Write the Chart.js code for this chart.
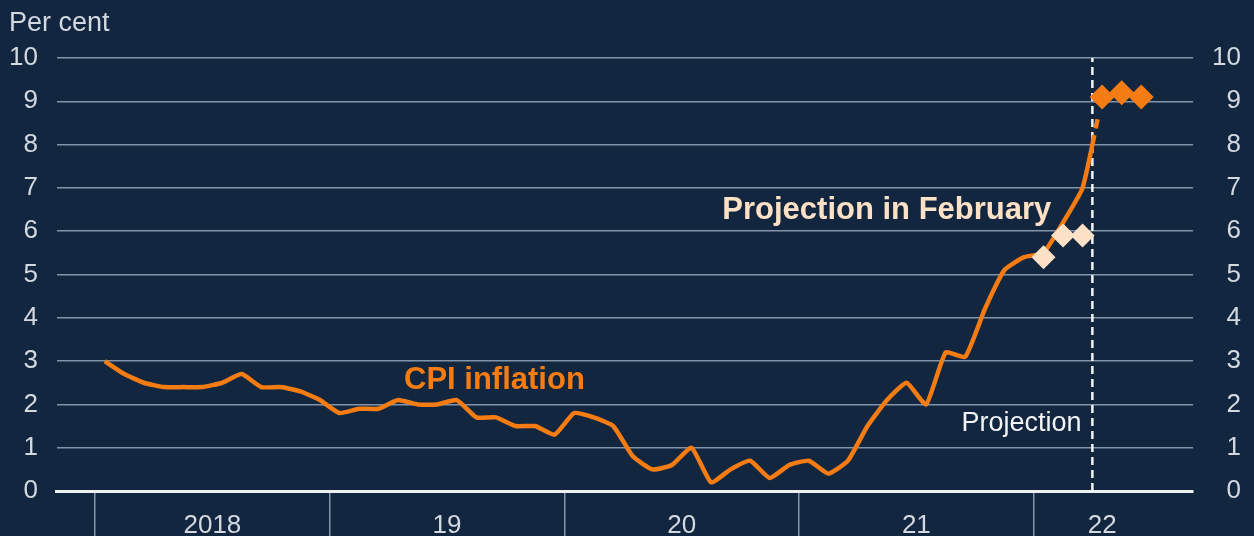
<!DOCTYPE html>
<html>
<head>
<meta charset="utf-8">
<script src="https://cdn.jsdelivr.net/npm/chart.js@4.4.1/dist/chart.umd.min.js"></script>
<style>
  html, body { margin: 0; padding: 0; background: #13263f; overflow: hidden; }
  #wrap { width: 1254px; height: 536px; }
</style>
</head>
<body>
<div id="wrap"><canvas id="chart"></canvas></div>
<script>
// Monthly CPI inflation, Jan 2018 .. Mar 2022 (per cent)
const cpi = [
  3.0, 2.7, 2.5, 2.4, 2.4, 2.4, 2.5, 2.7, 2.4, 2.4, 2.3, 2.1,
  1.8, 1.9, 1.9, 2.1, 2.0, 2.0, 2.1, 1.7, 1.7, 1.5, 1.5, 1.3,
  1.8, 1.7, 1.5, 0.8, 0.5, 0.6, 1.0, 0.2, 0.5, 0.7, 0.3, 0.6,
  0.7, 0.4, 0.7, 1.5, 2.1, 2.5, 2.0, 3.2, 3.1, 4.2, 5.1, 5.4,
  5.5, 6.2, 7.0
];
// February projection, Jan .. Mar 2022
const febProjection = [5.4, 5.9, 5.9];
// current projection, Apr .. Jun 2022
const newProjection = [9.1, 9.2, 9.1];
const yearLabels = ["2018", "19", "20", "21", "22"];
const yTicks = [0, 1, 2, 3, 4, 5, 6, 7, 8, 9, 10];

// month index: Jan 2018 = 0
const febStart = 48;
const newStart = cpi.length;
const projLine = cpi.length - 0.5;
const yearStarts = yearLabels.map((_, i) => i * 12 - 0.5);
const yearMids = [5.5, 17.5, 29.5, 41.5, 51];

const ORANGE = "#f47c12";
const PEACH = "#fde1c6";
const GRID = "#8194aa";
const TEXT = "#d3d9e1";
const FONT = "'Liberation Sans', Arial, sans-serif";
const NONE = "rgba(0,0,0,0)";

const linePts = cpi.map((v, i) => ({ x: i, y: v }));
linePts.push({ x: newStart, y: newProjection[0] });

const textPlugin = {
  id: "labels",
  afterDatasetsDraw(chart) {
    const { ctx, scales: { x, y } } = chart;
    ctx.save();
    ctx.textBaseline = "middle";

    ctx.font = "27px " + FONT;
    ctx.fillStyle = TEXT;
    ctx.textAlign = "left";
    ctx.fillText("Per cent", 9, 24);

    ctx.fillStyle = "#f2f4f6";
    ctx.textAlign = "right";
    ctx.fillText("Projection", x.getPixelForValue(49.95), y.getPixelForValue(1.55));

    ctx.font = "bold 31px " + FONT;
    ctx.fillStyle = ORANGE;
    ctx.textAlign = "left";
    ctx.fillText("CPI inflation", x.getPixelForValue(15.3), y.getPixelForValue(2.55));

    ctx.fillStyle = PEACH;
    ctx.textAlign = "right";
    ctx.fillText("Projection in February", x.getPixelForValue(48.4), y.getPixelForValue(6.47));
    ctx.restore();
  }
};

new Chart(document.getElementById("chart"), {
  type: "line",
  data: {
    datasets: [
      {
        label: "Projection",
        data: newProjection.map((v, i) => ({ x: newStart + i, y: v })),
        showLine: false,
        pointStyle: "rectRot",
        pointRadius: 12.5,
        pointBorderWidth: 0,
        pointBackgroundColor: ORANGE
      },
      {
        label: "Projection in February",
        data: febProjection.map((v, i) => ({ x: febStart + i, y: v })),
        showLine: false,
        pointStyle: "rectRot",
        pointRadius: 12,
        pointBorderWidth: 0,
        pointBackgroundColor: PEACH
      },
      {
        label: "CPI inflation",
        data: linePts,
        borderColor: ORANGE,
        borderWidth: 4.5,
        pointRadius: 0,
        tension: 0.15,
        segment: {
          borderDash: c => c.p1DataIndex === cpi.length ? [54, 7, 9, 40] : undefined
        }
      },
      {
        label: "projection start",
        data: [{ x: projLine, y: 0 }, { x: projLine, y: 10 }],
        borderColor: "#f2f4f6",
        borderWidth: 2.5,
        borderDash: [8, 5],
        pointRadius: 0
      }
    ]
  },
  options: {
    responsive: true,
    maintainAspectRatio: false,
    animation: false,
    layout: { padding: { left: 9, right: 13, top: 58, bottom: 0 } },
    plugins: { legend: { display: false }, tooltip: { enabled: false } },
    scales: {
      x: {
        type: "linear",
        min: -2.45,
        max: 55.65,
        afterBuildTicks: s => {
          s.ticks = yearStarts.concat(yearMids).sort((a, b) => a - b).map(v => ({ value: v }));
        },
        grid: {
          drawOnChartArea: false,
          tickLength: 50,
          lineWidth: 1.5,
          color: c => (c.tick && yearStarts.includes(c.tick.value)) ? GRID : NONE
        },
        border: { display: true, color: "#eef1f4", width: 3 },
        // blank title only gives the axis box room below the labels
        title: { display: true, text: " ", font: { size: 17, lineHeight: 1 }, padding: { top: 4, bottom: 4 } },
        ticks: {
          autoSkip: false,
          maxRotation: 0,
          padding: -28,
          color: TEXT,
          font: { family: FONT, size: 26, lineHeight: 1 },
          callback: v => {
            const i = yearMids.indexOf(v);
            return i >= 0 ? yearLabels[i] : "";
          }
        }
      },
      y: {
        position: "left",
        min: 0,
        max: 10,
        afterBuildTicks: s => { s.ticks = yTicks.map(v => ({ value: v })); },
        grid: {
          drawTicks: true,
          tickLength: 19,
          tickColor: NONE,
          lineWidth: 1.5,
          color: c => (c.tick && c.tick.value === 0) ? NONE : GRID
        },
        border: { display: false },
        ticks: {
          padding: 0,
          color: TEXT,
          font: { family: FONT, size: 26 }
        }
      },
      y2: {
        position: "right",
        min: 0,
        max: 10,
        afterBuildTicks: s => { s.ticks = yTicks.map(v => ({ value: v })); },
        grid: { display: true, drawOnChartArea: false, drawTicks: true, tickLength: 19, tickColor: NONE },
        border: { display: false },
        ticks: {
          padding: 0,
          crossAlign: "far",
          color: TEXT,
          font: { family: FONT, size: 26 }
        }
      }
    }
  },
  plugins: [textPlugin]
});
</script>
</body>
</html>
